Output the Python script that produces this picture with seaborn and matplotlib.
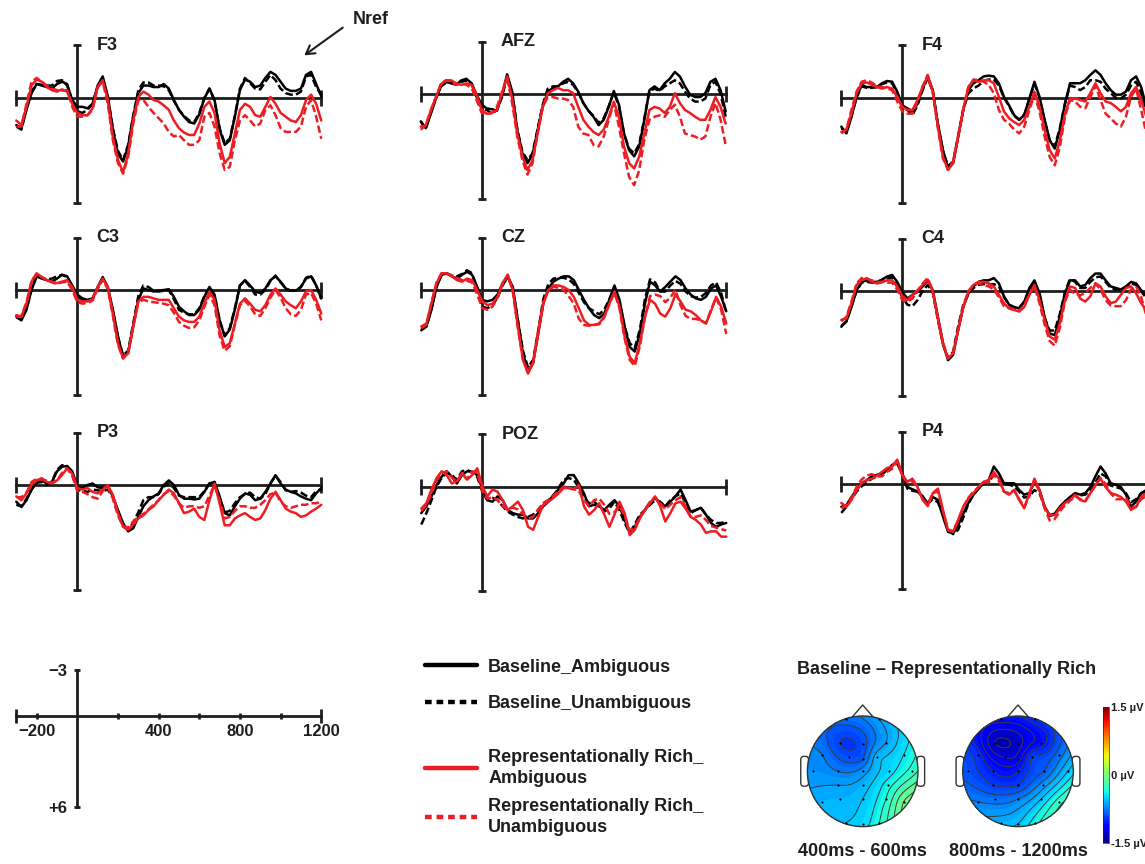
import numpy as np
import matplotlib
matplotlib.use("Agg")
import matplotlib.pyplot as plt
import seaborn as sns
from matplotlib.lines import Line2D
from matplotlib.patches import Circle, Polygon, FancyBboxPatch, FancyArrowPatch
from matplotlib.cm import ScalarMappable
from matplotlib.colors import Normalize

W, H = 1145, 864

# ERP waveforms in microvolts, one sample every 25 ms from -300 to 1200 ms
# BA = Baseline_Ambiguous, BU = Baseline_Unambiguous,
# RA = Representationally Rich_Ambiguous, RU = Representationally Rich_Unambiguous
F3_BA = [1.8, 2.0, 0.8, -0.3, -0.9, -0.8, -0.7, -0.6, -0.9, -1.05,
         -0.9, 0.15, 0.6, 0.6, 0.7, 0.4, -0.8, -1.4, -0.1, 2.1,
         3.7, 4.2, 3.2, 1.25, -0.3, -0.8, -0.8, -0.7, -0.7, -0.9,
         -0.6, 0.15, 0.8, 1.25, 1.6, 1.7, 1.1, 0.05, -0.6, 0.15,
         2.1, 3.1, 2.8, 1.25, -0.5, -1.2, -1.05, -0.7, -0.8, -1.3,
         -1.7, -1.5, -1.05, -0.6, -0.45, -0.45, -0.6, -1.5, -1.7, -0.9,
         -0.1]
F3_BU = [1.9, 2.1, 0.7, -0.4, -0.9, -0.85, -0.8, -0.8, -1.1, -1.15,
         -0.8, 0.3, 0.9, 1.0, 0.8, 0.4, -0.7, -1.25, 0.0, 2.0,
         3.5, 4.1, 3.1, 1.2, -0.5, -1.0, -1.0, -0.8, -0.8, -0.75,
         -0.5, 0.2, 0.8, 1.2, 1.5, 1.6, 1.0, 0.0, -0.6, 0.2,
         2.0, 3.0, 2.7, 1.2, -0.6, -1.3, -0.95, -0.6, -0.55, -1.05,
         -1.5, -1.15, -0.6, -0.3, -0.2, -0.2, -0.4, -1.4, -1.5, -0.7,
         -0.2]
F3_RA = [1.5, 1.8, 0.6, -0.8, -1.2, -1.05, -0.7, -0.5, -0.4, -0.55,
         -0.4, 0.4, 1.0, 1.15, 1.15, 0.7, -0.7, -1.15, 0.15, 2.6,
         4.1, 4.9, 3.7, 1.5, -0.05, -0.4, -0.2, 0.15, 0.25, 0.5,
         0.8, 1.5, 2.0, 2.3, 2.45, 2.45, 1.7, 0.6, 0.25, 1.0,
         3.0, 4.3, 3.9, 2.35, 0.8, 0.4, 0.6, 1.15, 1.25, 0.6,
         -0.05, 0.4, 1.0, 1.25, 1.5, 1.6, 1.15, 0.15, -0.2, 0.4,
         1.5]
F3_RU = [1.9, 1.9, 0.4, -1.05, -1.3, -1.05, -0.8, -0.6, -0.5, -0.45,
         -0.5, 0.6, 1.25, 1.25, 1.15, 0.8, -0.7, -1.05, 0.4, 2.8,
         4.3, 5.0, 3.9, 1.7, 0.15, 0.15, 0.6, 1.0, 1.35, 1.7,
         2.25, 2.55, 2.45, 2.8, 3.1, 3.1, 2.8, 1.25, 1.0, 1.9,
         3.65, 4.75, 4.55, 2.8, 1.5, 1.15, 1.5, 1.9, 1.7, 0.8,
         0.5, 1.15, 2.0, 2.25, 2.25, 2.25, 1.9, 0.6, 0.15, 1.25,
         2.7]

AFZ_BA = [1.8, 2.25, 1.3, 0.3, -0.5, -0.8, -0.7, -0.6, -0.9, -1.0,
          -0.7, 0.05, 0.7, 0.95, 1.0, 1.1, 0.05, -1.3, -0.15, 2.4,
          3.9, 4.55, 4.0, 2.4, 0.85, -0.15, -0.4, -0.5, -0.8, -1.0,
          -0.7, -0.15, 0.6, 1.1, 1.5, 2.05, 1.7, 0.85, -0.2, 0.7,
          2.6, 3.7, 4.1, 3.45, 1.7, -0.25, -0.5, -0.25, -0.7, -1.0,
          -1.45, -1.15, -0.5, 0.05, 0.2, 0.2, -0.05, -0.8, -1.0, -0.25,
          1.15]
AFZ_BU = [1.8, 2.3, 1.2, 0.2, -0.5, -0.75, -0.75, -0.7, -0.8, -0.9,
          -0.7, 0.2, 0.95, 1.05, 1.3, 1.05, 0.2, -1.15, -0.1, 2.3,
          3.8, 4.35, 3.9, 2.3, 0.7, -0.35, -0.5, -0.5, -0.7, -0.8,
          -0.6, -0.1, 0.6, 1.1, 1.45, 1.9, 1.6, 0.8, -0.1, 0.8,
          2.6, 3.6, 3.9, 3.3, 1.6, -0.2, -0.35, -0.2, -0.5, -0.7,
          -0.9, -0.7, -0.15, 0.3, 0.5, 0.5, 0.3, -0.6, -0.8, 0.0,
          1.5]
AFZ_RA = [2.15, 2.05, 1.1, 0.2, -0.65, -0.9, -0.9, -0.7, -0.6, -0.7,
          -0.6, 0.05, 1.05, 1.3, 1.25, 1.05, -0.05, -1.15, 0.3, 2.6,
          4.1, 5.0, 4.35, 2.6, 0.85, -0.05, -0.25, -0.4, -0.25, -0.25,
          -0.05, 0.85, 1.7, 2.15, 2.5, 2.7, 2.35, 1.5, 0.5, 1.5,
          3.45, 4.55, 4.9, 4.1, 2.6, 1.05, 0.85, 0.95, 1.25, 0.85,
          -0.05, 0.6, 1.05, 1.25, 1.5, 1.7, 1.7, 1.05, 0.2, 0.85,
          1.95]
AFZ_RU = [2.35, 2.05, 1.05, 0.2, -0.7, -0.9, -0.8, -0.6, -0.7, -0.6,
          -0.4, 0.4, 1.25, 1.3, 1.25, 0.85, -0.15, -1.05, 0.6, 2.8,
          4.35, 5.3, 4.55, 2.6, 0.85, 0.2, 0.2, 0.3, 0.3, 0.4,
          0.85, 2.15, 2.6, 2.7, 3.35, 3.45, 2.8, 1.7, 0.6, 2.15,
          3.9, 5.45, 6.0, 5.0, 3.0, 1.7, 1.5, 1.4, 1.5, 1.05,
          0.7, 1.5, 2.6, 2.7, 2.8, 3.0, 2.8, 1.5, 0.6, 1.7,
          3.35]

F4_BA = [1.9, 2.35, 1.25, -0.05, -0.85, -0.7, -0.7, -0.7, -0.95, -1.1,
         -1.05, -0.4, 0.5, 0.7, 0.9, 0.4, -0.6, -1.4, -0.5, 1.7,
         3.45, 4.65, 4.3, 2.55, 0.8, -0.5, -0.95, -1.15, -1.4, -1.45,
         -1.4, -0.95, -0.05, 0.5, 1.15, 1.45, 1.15, 0.05, -1.05, -0.05,
         1.45, 2.8, 3.35, 2.1, 0.4, -0.95, -0.95, -0.95, -1.15, -1.5,
         -1.8, -1.5, -0.95, -0.5, -0.2, -0.2, -0.4, -1.15, -1.4, -0.7,
         0.6]
F4_BU = [2.0, 2.3, 1.2, 0.0, -0.75, -0.65, -0.65, -0.7, -0.9, -1.0,
         -0.95, -0.3, 0.7, 0.8, 1.15, 0.5, -0.5, -1.3, -0.4, 1.8,
         3.5, 4.5, 4.2, 2.5, 0.8, -0.3, -0.6, -0.8, -1.1, -1.2,
         -1.2, -0.8, 0.0, 0.55, 1.2, 1.45, 1.1, 0.1, -0.9, 0.0,
         1.5, 2.8, 3.2, 2.0, 0.4, -0.8, -0.7, -0.5, -0.7, -1.15,
         -1.15, -1.05, -0.6, -0.3, 0.0, 0.05, -0.2, -0.8, -1.05, -0.3,
         0.8]
F4_RA = [2.25, 2.1, 1.05, -0.3, -0.95, -1.0, -0.85, -0.7, -0.6, -0.7,
         -0.6, -0.05, 0.6, 0.8, 0.8, 0.15, -0.7, -1.4, -0.4, 1.9,
         3.9, 4.75, 4.3, 2.55, 0.8, -0.7, -1.15, -1.05, -1.15, -1.15,
         -0.95, -0.05, 0.9, 1.35, 1.6, 1.8, 1.45, 0.6, -0.4, 0.6,
         2.1, 3.45, 4.0, 2.8, 1.05, 0.05, 0.05, 0.15, 0.25, -0.3,
         -0.95, -0.3, 0.25, 0.35, 0.6, 0.9, 0.6, -0.3, -0.7, 0.15,
         1.25]
F4_RU = [2.35, 2.1, 0.8, -0.4, -1.05, -1.15, -1.0, -0.75, -0.7, -0.6,
         -0.5, 0.25, 0.9, 1.05, 1.05, 0.25, -0.75, -1.5, -0.4, 2.0,
         4.0, 4.75, 4.2, 2.55, 0.7, -0.7, -1.2, -1.15, -1.05, -0.85,
         -0.3, 0.8, 1.45, 1.7, 2.1, 2.35, 1.9, 0.8, -0.2, 0.9,
         2.55, 3.9, 4.45, 3.25, 1.25, 0.15, 0.25, 0.6, 0.7, -0.05,
         -0.8, 0.15, 1.05, 1.35, 1.7, 1.9, 1.25, -0.05, -0.6, 0.8,
         2.35]

C3_BA = [1.75, 2.0, 1.3, 0.0, -0.9, -0.75, -0.65, -0.55, -0.75, -1.0,
         -0.9, -0.3, 0.3, 0.55, 0.65, 0.55, -0.2, -0.85, -0.2, 1.3,
         3.05, 4.4, 4.15, 2.4, 0.65, -0.1, 0.0, 0.1, 0.05, 0.0,
         -0.05, 0.45, 1.1, 1.4, 1.65, 1.65, 1.3, 0.45, -0.2, 0.3,
         2.0, 3.05, 2.6, 1.3, -0.3, -0.65, -0.3, 0.1, 0.2, -0.1,
         -0.65, -0.9, -0.55, -0.1, 0.05, 0.05, -0.2, -0.75, -0.9, -0.3,
         0.55]
C3_BU = [1.8, 1.95, 1.2, -0.1, -0.9, -0.8, -0.7, -0.75, -0.9, -1.0,
         -0.85, -0.2, 0.4, 0.65, 0.7, 0.6, -0.1, -0.7, -0.1, 1.4,
         3.1, 4.3, 4.0, 2.2, 0.4, -0.3, -0.2, 0.05, 0.1, 0.05,
         0.0, 0.6, 1.3, 1.5, 1.6, 1.6, 1.2, 0.4, -0.15, 0.4,
         2.0, 3.0, 2.5, 1.2, -0.3, -0.6, -0.2, 0.3, 0.3, 0.0,
         -0.6, -0.95, -0.5, -0.1, 0.05, 0.05, -0.2, -0.8, -0.95, -0.3,
         0.6]
C3_RA = [1.65, 1.75, 0.9, -0.55, -1.1, -0.85, -0.65, -0.55, -0.45, -0.55,
         -0.65, -0.2, 0.65, 0.75, 0.75, 0.6, -0.2, -0.75, -0.2, 1.55,
         3.5, 4.5, 4.15, 2.4, 0.75, 0.45, 0.45, 0.55, 0.65, 0.65,
         0.65, 1.2, 1.75, 2.0, 2.1, 2.1, 1.75, 0.9, 0.1, 0.65,
         2.65, 3.75, 3.5, 2.2, 0.9, 0.55, 0.9, 1.3, 1.4, 1.0,
         0.3, -0.1, 0.3, 0.75, 1.0, 1.2, 0.75, 0.1, 0.0, 0.65,
         1.55]
C3_RU = [1.8, 1.7, 0.8, -0.6, -1.05, -0.85, -0.65, -0.5, -0.4, -0.5,
         -0.55, 0.0, 0.8, 0.9, 0.85, 0.7, -0.1, -0.7, -0.1, 1.7,
         3.6, 4.5, 4.1, 2.4, 0.8, 0.65, 0.75, 0.8, 0.85, 0.9,
         1.0, 1.5, 2.1, 2.35, 2.5, 2.45, 2.0, 1.1, 0.3, 1.0,
         3.0, 4.0, 3.7, 2.3, 1.0, 0.7, 1.1, 1.6, 1.7, 1.2,
         0.5, 0.0, 0.5, 1.2, 1.6, 1.7, 1.3, 0.3, 0.2, 0.9,
         2.0]

CZ_BA = [2.65, 2.4, 1.3, -0.2, -1.0, -1.1, -0.9, -0.75, -1.0, -1.2,
         -1.0, -0.2, 0.65, 0.75, 0.65, 0.3, -0.45, -0.9, -0.2, 2.0,
         4.15, 5.35, 4.8, 2.85, 0.9, -0.1, -0.55, -0.75, -0.9, -0.9,
         -0.65, 0.0, 0.65, 1.2, 1.65, 1.85, 1.55, 0.65, -0.3, 0.65,
         2.4, 3.75, 4.05, 2.85, 0.9, -0.55, -0.3, 0.1, -0.2, -0.55,
         -0.9, -0.65, -0.1, 0.3, 0.55, 0.65, 0.45, -0.1, -0.3, 0.45,
         1.4]
CZ_BU = [2.6, 2.4, 1.2, -0.3, -1.0, -1.1, -0.95, -0.9, -1.05, -1.3,
         -1.1, 0.0, 1.1, 1.2, 1.0, 0.5, -0.3, -0.85, -0.1, 2.0,
         4.0, 5.1, 4.6, 2.7, 0.6, -0.4, -0.75, -0.8, -0.8, -0.7,
         -0.4, 0.2, 0.8, 1.2, 1.4, 1.6, 1.3, 0.6, -0.1, 0.8,
         2.4, 3.5, 3.8, 2.6, 0.6, -0.7, -0.5, 0.1, 0.1, -0.3,
         -0.6, -0.4, 0.1, 0.4, 0.5, 0.45, 0.2, -0.3, -0.5, 0.2,
         1.5]
CZ_RA = [2.4, 2.2, 0.9, -0.45, -1.1, -1.1, -0.9, -0.65, -0.55, -0.75,
         -0.65, 0.0, 0.75, 1.0, 0.9, 0.45, -0.45, -1.0, 0.0, 2.4,
         4.6, 5.5, 4.8, 2.85, 0.9, 0.0, -0.3, -0.3, -0.2, 0.0,
         0.45, 1.2, 2.0, 2.3, 2.3, 2.2, 1.75, 0.9, 0.1, 1.1,
         3.05, 4.4, 4.8, 3.5, 1.75, 0.65, 0.9, 1.55, 1.75, 1.2,
         0.3, 0.75, 1.3, 1.4, 1.65, 2.0, 2.2, 1.4, 0.45, 1.1,
         2.2]
CZ_RU = [2.5, 2.3, 0.8, -0.5, -1.1, -1.05, -0.95, -0.8, -0.65, -0.6,
         -0.5, 0.3, 1.2, 1.3, 1.1, 0.5, -0.4, -1.0, 0.1, 2.5,
         4.6, 5.4, 4.7, 2.7, 0.8, 0.0, -0.2, -0.15, 0.0, 0.4,
         0.9, 1.9, 2.3, 2.35, 2.3, 2.25, 1.8, 0.9, 0.2, 1.2,
         3.2, 4.6, 5.0, 3.7, 1.8, 0.4, 0.3, 0.4, 0.8, 0.5,
         0.0, 1.0, 1.7, 1.9, 1.9, 2.0, 2.2, 1.3, 0.5, 1.3,
         2.9]

C4_BA = [2.35, 2.0, 1.05, -0.05, -0.6, -0.7, -0.6, -0.6, -0.75, -0.95,
         -1.05, -0.6, 0.05, 0.5, 0.25, 0.05, -0.3, -0.7, -0.05, 1.7,
         3.45, 4.55, 4.2, 2.55, 1.05, 0.15, -0.3, -0.6, -0.7, -0.7,
         -0.85, -0.5, 0.35, 0.9, 1.05, 1.15, 0.7, -0.2, -0.7, 0.15,
         1.7, 2.8, 2.9, 1.7, 0.15, -0.7, -0.7, -0.3, -0.4, -0.85,
         -1.15, -1.15, -0.7, -0.3, -0.2, -0.1, -0.3, -0.6, -0.5, -0.05,
         0.35]
C4_BU = [2.3, 2.0, 1.0, 0.0, -0.55, -0.6, -0.55, -0.5, -0.6, -0.8,
         -0.9, -0.3, 0.4, 0.9, 1.0, 0.6, 0.0, -0.4, 0.1, 1.9,
         3.5, 4.4, 4.0, 2.3, 0.9, 0.2, -0.2, -0.4, -0.45, -0.45,
         -0.45, -0.3, 0.4, 0.9, 1.1, 1.1, 0.7, 0.0, -0.5, 0.3,
         1.8, 2.6, 2.6, 1.5, 0.1, -0.8, -0.6, -0.2, -0.2, -0.6,
         -0.9, -0.95, -0.6, -0.2, -0.1, -0.1, -0.2, -0.5, -0.4, 0.0,
         0.5]
C4_RA = [1.9, 1.8, 0.8, -0.4, -0.7, -0.85, -0.6, -0.5, -0.6, -0.7,
         -0.7, -0.3, 0.35, 0.6, 0.25, -0.05, -0.4, -0.75, 0.05, 1.8,
         3.45, 4.45, 4.1, 2.55, 1.05, 0.05, -0.4, -0.6, -0.6, -0.5,
         -0.3, 0.25, 0.8, 1.15, 1.25, 1.35, 1.05, 0.25, -0.4, 0.6,
         1.9, 3.0, 3.2, 2.1, 0.6, -0.3, -0.2, 0.5, 0.7, 0.35,
         -0.5, -0.3, 0.35, 0.8, 0.7, 0.25, -0.2, -0.3, 0.15, 0.8,
         1.25]
C4_RU = [2.0, 1.7, 0.7, -0.5, -0.85, -0.8, -0.7, -0.6, -0.6, -0.55,
         -0.55, -0.1, 0.6, 0.7, 0.5, 0.0, -0.5, -0.85, 0.0, 1.8,
         3.4, 4.4, 4.1, 2.5, 1.0, 0.0, -0.4, -0.5, -0.4, -0.3,
         -0.1, 0.4, 1.0, 1.1, 1.2, 1.3, 0.9, 0.2, -0.3, 0.8,
         2.2, 3.3, 3.6, 2.4, 0.7, -0.1, 0.2, 0.3, 0.1, -0.2,
         -0.5, -0.1, 0.6, 0.95, 1.0, 1.0, 0.6, -0.1, -0.3, 0.4,
         1.6]

P3_BA = [1.1, 1.45, 1.0, 0.3, -0.2, -0.3, -0.1, -0.2, -0.9, -1.2,
         -1.25, -0.9, 0.1, 0.2, 0.0, -0.1, 0.15, 0.2, 0.1, 0.75,
         1.65, 2.5, 3.05, 2.85, 2.1, 1.4, 1.0, 0.75, 0.55, 0.0,
         -0.3, 0.0, 0.65, 0.9, 0.9, 0.95, 0.9, 0.45, -0.1, -0.2,
         0.75, 1.85, 2.0, 1.4, 0.9, 0.55, 0.65, 1.0, 0.9, 0.45,
         -0.1, -0.65, -0.1, 0.3, 0.45, 0.55, 0.75, 0.9, 1.0, 0.55,
         0.2]
P3_BU = [1.3, 1.4, 0.9, 0.3, -0.15, -0.2, 0.0, -0.2, -1.0, -1.3,
         -1.2, -0.7, 0.3, 0.4, 0.45, 0.3, 0.35, 0.4, 0.3, 0.8,
         1.9, 2.7, 2.9, 2.5, 1.8, 1.0, 0.8, 0.8, 0.6, 0.1,
         -0.1, 0.2, 0.7, 0.8, 0.8, 0.8, 0.8, 0.4, -0.1, -0.2,
         0.9, 1.8, 1.7, 1.2, 0.8, 0.6, 0.5, 0.8, 0.9, 0.6,
         -0.1, -0.6, -0.2, 0.35, 0.45, 0.4, 0.5, 0.7, 0.8, 0.4,
         0.3]
P3_RA = [0.75, 1.0, 0.55, 0.0, -0.3, -0.45, -0.2, -0.1, -0.3, -0.65,
         -1.1, -0.75, 0.2, 0.3, 0.2, 0.45, 0.55, 0.3, 0.0, 0.65,
         1.85, 2.75, 2.95, 2.6, 2.2, 2.0, 1.65, 1.4, 1.0, 0.65,
         0.3, 0.55, 1.2, 1.85, 1.75, 1.55, 2.1, 2.3, 1.0, -0.1,
         1.2, 2.65, 2.65, 2.2, 2.0, 1.85, 2.1, 2.3, 2.2, 1.65,
         0.9, 0.45, 1.0, 1.55, 1.75, 1.85, 2.1, 2.0, 1.75, 1.55,
         1.3]
P3_RU = [0.8, 0.8, 0.5, -0.2, -0.4, -0.35, -0.3, -0.15, -0.3, -0.8,
         -1.1, -0.6, 0.4, 0.45, 0.6, 0.8, 0.9, 0.4, 0.1, 0.9,
         2.0, 2.7, 2.8, 2.4, 2.1, 1.9, 1.6, 1.3, 1.0, 0.6,
         0.4, 0.7, 1.2, 1.5, 1.4, 1.4, 1.5, 1.4, 0.7, 0.0,
         1.0, 2.2, 2.1, 1.7, 1.4, 1.4, 1.5, 1.5, 1.3, 1.0,
         0.6, 0.5, 1.1, 1.4, 1.5, 1.4, 1.3, 1.3, 1.2, 1.2,
         1.1]

POZ_BA = [1.75, 1.3, 0.65, -0.1, -0.65, -1.0, -0.65, -0.2, -0.75, -1.0,
          -1.0, -0.75, 0.1, 0.9, 1.0, 0.65, 0.9, 1.55, 1.75, 1.85,
          1.85, 2.1, 2.1, 1.75, 1.3, 1.0, 0.55, 0.2, -0.2, -0.75,
          -0.75, -0.2, 0.45, 1.3, 1.2, 1.3, 1.55, 1.2, 0.9, 1.3,
          2.2, 2.95, 2.65, 2.0, 1.55, 1.1, 0.75, 1.1, 1.3, 1.0,
          0.65, 0.2, 0.9, 1.65, 1.55, 1.4, 1.85, 2.4, 2.65, 2.5,
          2.4]
POZ_BU = [2.5, 1.75, 0.9, 0.0, -0.55, -0.9, -0.75, -0.45, -1.0, -1.1,
          -0.9, -0.65, 0.35, 0.9, 0.75, 0.9, 1.3, 1.65, 1.85, 2.0,
          2.1, 2.0, 1.85, 1.55, 1.1, 0.9, 0.65, 0.1, -0.45, -0.55,
          -0.45, 0.1, 0.75, 1.1, 1.0, 1.3, 1.65, 1.45, 1.0, 1.55,
          2.4, 3.05, 2.5, 1.85, 1.55, 1.2, 0.9, 1.0, 1.3, 0.9,
          0.65, 0.45, 1.1, 1.75, 1.55, 1.4, 1.85, 2.2, 2.4, 2.4,
          2.3]
POZ_RA = [1.45, 1.1, 0.2, -0.55, -1.0, -0.75, -0.2, -0.35, -0.9, -0.45,
          -0.75, -1.2, 0.0, 0.65, 0.2, 0.35, 0.9, 1.55, 1.3, 1.0,
          1.55, 2.65, 2.85, 2.0, 1.2, 1.0, 0.75, 0.45, 0.1, 0.1,
          0.2, -0.1, 1.3, 1.85, 1.55, 1.1, 1.85, 2.65, 1.85, 1.0,
          1.75, 3.2, 2.85, 2.1, 1.55, 1.1, 0.65, 1.3, 2.3, 1.75,
          1.1, 1.0, 1.45, 2.0, 2.2, 2.5, 3.05, 2.95, 2.95, 3.3,
          3.3]
POZ_RU = [1.6, 1.2, 0.5, -0.4, -0.9, -1.0, -0.6, -0.3, -0.8, -0.5,
          -1.0, -0.9, 0.3, 0.8, 0.7, 0.9, 1.3, 1.5, 1.4, 1.5,
          1.8, 2.1, 2.0, 1.5, 1.1, 0.9, 0.6, 0.3, 0.0, 0.1,
          0.15, 0.3, 0.9, 1.3, 0.9, 0.8, 1.2, 1.8, 1.7, 1.3,
          1.9, 2.9, 2.7, 2.0, 1.5, 1.0, 0.7, 1.1, 1.5, 1.2,
          0.9, 0.7, 1.3, 2.0, 2.0, 1.9, 2.2, 2.6, 2.7, 2.8,
          2.9]

P4_BA = [1.5, 1.4, 0.85, 0.4, -0.05, -0.25, -0.5, -0.6, -0.7, -0.9,
         -1.25, -1.45, -0.7, 0.2, 0.35, 0.5, 0.85, 1.25, 0.85, 1.05,
         2.15, 3.15, 3.25, 2.7, 1.95, 1.25, 0.7, 0.3, -0.05, -0.25,
         -1.15, -0.7, -0.05, -0.05, -0.05, 0.4, 0.7, 0.6, -0.15, 0.4,
         1.5, 2.05, 1.95, 1.5, 1.15, 0.85, 0.6, 0.7, 0.6, 0.2,
         -0.5, -1.15, -0.7, -0.05, 0.05, 0.2, 0.7, 1.5, 1.15, 0.6,
         0.4]
P4_BU = [1.9, 1.5, 1.0, 0.5, 0.15, -0.1, -0.35, -0.5, -0.65, -0.9,
         -1.2, -1.35, -0.6, 0.3, 0.45, 0.5, 0.8, 1.3, 1.0, 1.2,
         2.0, 3.0, 3.3, 3.0, 2.2, 1.3, 0.7, 0.3, 0.0, -0.15,
         -0.6, -0.5, 0.0, 0.05, 0.15, 0.5, 0.9, 0.8, 0.4, 0.6,
         1.5, 2.1, 2.0, 1.6, 1.2, 0.9, 0.7, 0.75, 0.7, 0.4,
         -0.1, -0.7, -0.5, 0.1, 0.2, 0.3, 0.6, 1.2, 1.0, 0.6,
         0.5]
P4_RA = [1.25, 1.5, 1.05, 0.4, -0.05, -0.25, -0.35, -0.55, -0.8, -1.05,
         -1.15, -1.6, -0.6, -0.15, -0.35, 0.2, 1.05, 1.45, 0.6, 0.3,
         1.7, 3.05, 3.15, 2.35, 1.5, 0.95, 0.6, 0.2, -0.15, -0.25,
         -0.8, -0.35, 0.5, 0.7, 0.4, 1.05, 1.6, 0.6, -0.35, 0.4,
         1.5, 2.05, 2.05, 1.6, 1.25, 1.05, 0.7, 1.05, 1.15, 0.6,
         0.05, -0.35, 0.2, 0.6, 0.7, 0.85, 1.15, 1.7, 1.5, 0.85,
         0.6]
P4_RU = [1.6, 1.4, 0.9, 0.2, -0.3, -0.55, -0.65, -0.5, -0.5, -0.8,
         -1.0, -1.5, -0.5, -0.1, -0.2, 0.3, 1.0, 1.35, 0.6, 0.5,
         1.8, 3.0, 3.1, 2.4, 1.5, 0.9, 0.5, 0.2, -0.1, -0.1,
         -0.6, -0.2, 0.5, 0.6, 0.4, 1.0, 1.5, 0.8, -0.2, 0.5,
         1.6, 2.4, 2.3, 1.8, 1.4, 1.1, 0.8, 1.0, 1.1, 0.6,
         0.1, -0.4, 0.0, 0.6, 1.0, 1.0, 0.9, 1.5, 1.5, 1.0,
         0.8]

CONDITIONS = ["Baseline_Ambiguous", "Baseline_Unambiguous",
              "Representationally Rich_\nAmbiguous", "Representationally Rich_\nUnambiguous"]

# scale bar
SCALE_X_TICKS = [-200, 200, 400, 600, 800, 1000]
SCALE_X_LABELS = ["\u2212200", "", "400", "", "800", ""]
SCALE_Y_TICKS = [-3, 6]
SCALE_Y_LABELS = ["\u22123", "+6"]

# topographic maps: electrode positions (head radius = 1) and difference values (uV)
EL_X = [-0.3, 0.3, -0.73, -0.41, 0.0, 0.42, 0.74, -0.24, 0.0, 0.25,
        -0.9, -0.45, 0.0, 0.47, 0.9, -0.45, 0.0, 0.45, -0.73, -0.41, 0.0, 0.42, 0.74, -0.3, 0.0, 0.3]
EL_Y = [0.94, 0.94, 0.3, 0.52, 0.5, 0.52, 0.3, 0.25, 0.22, 0.25,
        0.0, 0.0, 0.0, 0.0, 0.0, -0.25, -0.25, -0.25, -0.55, -0.5, -0.5, -0.5, -0.55, -0.93, -0.95, -0.93]
TOPO_400_600 = [-0.8, -0.65, -0.75, -0.95, -0.9, -0.65, -0.45, -0.9, -0.85, -0.6,
                -0.7, -0.75, -0.7, -0.5, -0.3, -0.65, -0.6, -0.4, -0.6, -0.6,
                -0.55, -0.35, -0.05, -0.55, -0.5, -0.35]
TOPO_800_1200 = [-1.1, -1.0, -1.0, -1.35, -1.3, -1.1, -0.8, -1.25, -1.2, -0.95,
                 -0.9, -1.05, -1.05, -0.85, -0.55, -0.95, -0.95, -0.7, -0.75, -0.8,
                 -0.75, -0.55, -0.3, -0.6, -0.55, -0.4]
TOPO_LABELS = ["400ms - 600ms", "800ms - 1200ms"]

sns.set_theme(style="white")
plt.rcParams["font.family"] = ["Liberation Sans", "DejaVu Sans"]
plt.rcParams["font.weight"] = "bold"
INK = "#1e1e1e"
RED = "#ee1d24"
LINE_STYLES = [("black", "-"), ("black", (0, (3, 1.3))), (RED, "-"), (RED, (0, (3, 1.3)))]

PX_MS = 0.2033   # pixels per ms
PX_UV = 15.2     # pixels per microvolt
XL = (-330, 1230)
YT, YB = -3.8, 7.2

fig = plt.figure(figsize=(W / 100, H / 100), dpi=100)


def erp_axes(vx, hy, ybounds):
    left = vx + XL[0] * PX_MS
    width = (XL[1] - XL[0]) * PX_MS
    top = hy + YT * PX_UV
    height = (YB - YT) * PX_UV
    ax = fig.add_axes([left / W, 1 - (top + height) / H, width / W, height / H])
    ax.set_xlim(*XL)
    ax.set_ylim(YB, YT)
    ax.set_facecolor("none")
    for s in ["top", "right"]:
        ax.spines[s].set_visible(False)
    for s in ["left", "bottom"]:
        ax.spines[s].set_position(("data", 0))
        ax.spines[s].set_color(INK)
        ax.spines[s].set_linewidth(2)
        ax.spines[s].set_zorder(1)
    ax.spines["left"].set_bounds(*ybounds)
    ax.spines["bottom"].set_bounds(-300, 1200)
    ax.tick_params(bottom=True, left=True, direction="inout", color=INK, width=2)
    return ax


PANELS = [("F3", 77.3, 97.7, F3_BA, F3_BU, F3_RA, F3_RU),
          ("AFZ", 481.7, 94.0, AFZ_BA, AFZ_BU, AFZ_RA, AFZ_RU),
          ("F4", 902.3, 97.7, F4_BA, F4_BU, F4_RA, F4_RU),
          ("C3", 77.3, 290.0, C3_BA, C3_BU, C3_RA, C3_RU),
          ("CZ", 482.3, 290.0, CZ_BA, CZ_BU, CZ_RA, CZ_RU),
          ("C4", 902.3, 291.0, C4_BA, C4_BU, C4_RA, C4_RU),
          ("P3", 77.3, 485.0, P3_BA, P3_BU, P3_RA, P3_RU),
          ("POZ", 482.3, 486.5, POZ_BA, POZ_BU, POZ_RA, POZ_RU),
          ("P4", 902.3, 484.0, P4_BA, P4_BU, P4_RA, P4_RU)]

for name, vx, hy, *waves in PANELS:
    ax = erp_axes(vx, hy, (-3.45, 6.9))
    ax.set_xticks([-300, 1200], labels=["", ""])
    ax.set_yticks([-3.45, 6.9], labels=["", ""])
    ax.tick_params(axis="x", length=11)
    ax.tick_params(axis="y", length=6)
    for vals, (col, ls) in zip(waves, LINE_STYLES):
        t = -300 + 25 * np.arange(len(vals))
        sns.lineplot(x=t, y=vals, ax=ax, color=col, linestyle=ls, linewidth=1.8,
                     errorbar=None, zorder=3)
    ax.set_xlabel("")
    ax.set_ylabel("")
    ax.text(95, -3.45, name, fontsize=13, fontweight="bold", color=INK,
            ha="left", va="center")

fig.text(353 / W, 1 - 20 / H, "Nref", fontsize=13, fontweight="bold", color=INK,
         ha="left", va="center")
fig.add_artist(FancyArrowPatch(
    (345 / W, 1 - 26 / H), (302 / W, 1 - 57 / H), transform=fig.transFigure,
    arrowstyle="->,head_length=6,head_width=3.5", lw=1.5, color=INK))

# scale bar
ax = erp_axes(77.3, 716.0, (-3, 6))
ax.set_xticks(SCALE_X_TICKS, labels=SCALE_X_LABELS)
ax.set_xticks([-300, 1200], labels=["", "1200"], minor=True)
ax.set_yticks(SCALE_Y_TICKS, labels=SCALE_Y_LABELS)
ax.tick_params(axis="x", which="major", length=5, pad=3, labelsize=12, labelcolor=INK)
ax.tick_params(axis="x", which="minor", length=9.5, pad=1, labelsize=12, labelcolor=INK,
               bottom=True, direction="inout", color=INK, width=2)
ax.tick_params(axis="y", length=5, pad=5, labelsize=12, labelcolor=INK)
for lab in ax.get_xticklabels(which="both") + ax.get_yticklabels():
    lab.set_fontweight("bold")

# legend
handles = [Line2D([], [], color=c, lw=3.2, linestyle=ls if ls == "-" else (0, (1.5, 1.1)))
           for c, ls in LINE_STYLES]
leg1 = fig.legend(handles[:2], CONDITIONS[:2], loc="upper left",
                  bbox_to_anchor=(425 / W, 1 - 658.5 / H), frameon=False, borderpad=0,
                  borderaxespad=0, handlelength=2.9, handletextpad=0.6, labelspacing=1.1,
                  prop={"size": 13, "weight": "bold"})
leg2 = fig.legend(handles[2:], CONDITIONS[2:], loc="upper left",
                  bbox_to_anchor=(425 / W, 1 - 749 / H), frameon=False, borderpad=0,
                  borderaxespad=0, handlelength=2.9, handletextpad=0.6, labelspacing=0.63,
                  prop={"size": 13, "weight": "bold"})
for lg in (leg1, leg2):
    for tx in lg.get_texts():
        tx.set_color(INK)
        tx.set_linespacing(1.3)

# topographic maps
fig.text(946.5 / W, 1 - 669 / H, "Baseline \u2013 Representationally Rich", fontsize=13,
         fontweight="bold", color=INK, ha="center", va="center")

gx, gy = np.meshgrid(np.linspace(-1, 1, 241), np.linspace(-1, 1, 241))
ex, ey = np.array(EL_X), np.array(EL_Y)


def surface(vals):
    n = len(ex)
    r = np.hypot(ex[:, None] - ex[None, :], ey[:, None] - ey[None, :])
    K = np.where(r > 0, r ** 2 * np.log(np.maximum(r, 1e-12)), 0.0)
    A = np.zeros((n + 3, n + 3))
    A[:n, :n] = K
    A[:n, n] = 1
    A[:n, n + 1] = ex
    A[:n, n + 2] = ey
    A[n, :n] = 1
    A[n + 1, :n] = ex
    A[n + 2, :n] = ey
    coef = np.linalg.solve(A, np.r_[vals, 0, 0, 0])
    rr = np.hypot(gx[..., None] - ex, gy[..., None] - ey)
    Kg = np.where(rr > 0, rr ** 2 * np.log(np.maximum(rr, 1e-12)), 0.0)
    z = Kg @ coef[:n] + coef[n] + coef[n + 1] * gx + coef[n + 2] * gy
    z = np.clip(z, -1.5, 1.5)
    return np.ma.masked_where(np.hypot(gx, gy) > 1.0, z)


R = 55.3
norm = Normalize(-1.5, 1.5)
for (cx, cy), vals, lab in zip([(862.7, 771.3), (1018.0, 771.3)],
                               [TOPO_400_600, TOPO_800_1200], TOPO_LABELS):
    x0, x1, y0, y1 = -1.3, 1.3, -1.1, 1.3
    tax = fig.add_axes([(cx + x0 * R) / W, 1 - (cy - y0 * R) / H,
                        (x1 - x0) * R / W, (y1 - y0) * R / H])
    tax.set_xlim(x0, x1)
    tax.set_ylim(y0, y1)
    tax.axis("off")
    for side in (-1, 1):
        tax.add_patch(FancyBboxPatch((side * 1.05 - 0.07, -0.27), 0.14, 0.54,
                                     boxstyle="round,pad=0,rounding_size=0.06",
                                     fc="white", ec="#333333", lw=1.0, zorder=1))
    tax.add_patch(Polygon([(-0.2, 0.97), (0, 1.2), (0.2, 0.97)], closed=True,
                          fc="white", ec="#333333", lw=1.0, zorder=1))
    z = surface(np.array(vals))
    tax.add_patch(Circle((0, 0), 1.0, fc="white", ec="none", zorder=1.5))
    tax.contourf(gx, gy, z, levels=np.linspace(-1.5, 1.5, 61), cmap="jet", norm=norm, zorder=2)
    tax.contour(gx, gy, z, levels=np.arange(-1.45, 1.5, 0.1), colors="#3a3a3a",
                linewidths=0.7, linestyles="solid", zorder=3)
    tax.add_patch(Circle((0, 0), 1.0, fc="none", ec="#333333", lw=1.0, zorder=4))
    tax.scatter(ex, ey, s=2.5, color="black", zorder=5, linewidths=0)
    fig.text(cx / W, 1 - 852 / H, lab, fontsize=13, fontweight="bold", color=INK,
             ha="center", va="center")

cax = fig.add_axes([1102.7 / W, 1 - 842.7 / H, 5.8 / W, 135.7 / H])
cb = fig.colorbar(ScalarMappable(norm=norm, cmap="jet"), cax=cax)
cb.set_ticks([1.5, 0, -1.5], labels=["1.5 \u00b5V", "0 \u00b5V", "-1.5 \u00b5V"])
cb.outline.set_linewidth(0.5)
cax.tick_params(length=0, pad=1.5, labelsize=8, labelcolor=INK)
for lab in cax.get_yticklabels():
    lab.set_fontweight("bold")

fig.savefig("out.png", dpi=100)
